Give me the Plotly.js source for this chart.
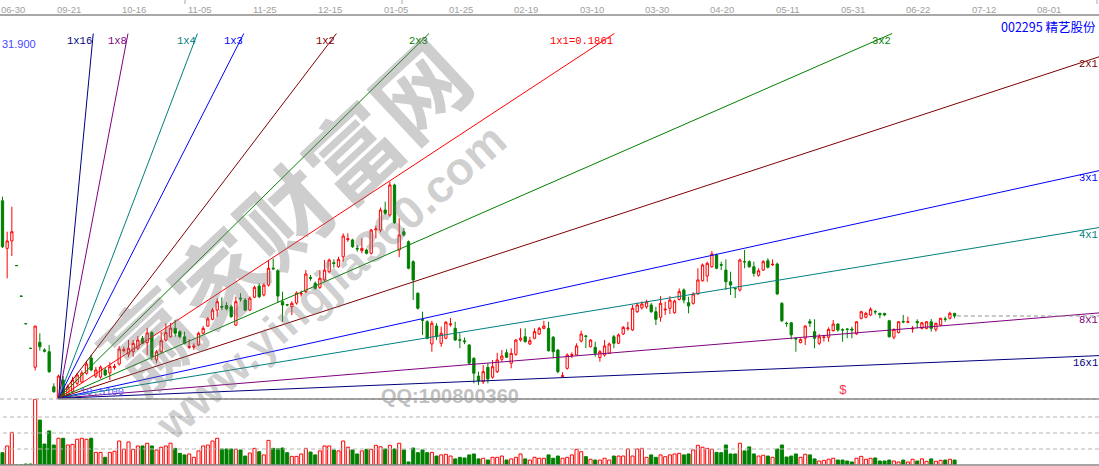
<!DOCTYPE html>
<html>
<head>
<meta charset="utf-8">
<script src="https://cdn.plot.ly/plotly-3.0.1.min.js"></script>
<style>
html,body{margin:0;padding:0;background:#ffffff;overflow:hidden}
#chart{width:1099px;height:466px}
</style>
</head>
<body>
<div id="chart"></div>
<script>
// ---------------- data ----------------
const openP = [22.51,19.62,20.07,18.58,16.72,15.05,13.55,12.40,13.91,13.45,
13.34,11.21,10.51,11.62,10.71,10.91,11.42,11.50,12.03,12.96,
11.86,11.80,12.23,12.05,12.38,12.59,13.40,13.20,13.34,13.55,
14.15,13.89,14.50,12.84,13.34,14.05,14.25,14.76,14.56,14.25,
13.60,13.62,13.75,14.46,14.90,15.31,15.87,16.10,16.15,16.07,
14.96,16.60,16.48,15.87,16.65,17.33,16.79,17.39,18.42,18.26,
16.38,16.20,16.07,16.30,16.85,16.99,17.85,17.50,17.25,17.70,
18.20,18.75,18.50,19.11,20.15,20.13,19.62,19.48,19.52,19.32,
20.75,20.73,21.95,21.65,23.47,19.52,20.63,20.02,18.81,16.89,
15.30,15.16,13.81,14.90,13.85,14.16,14.98,14.76,14.07,14.00,
13.75,12.94,11.86,11.52,12.39,11.79,12.13,12.88,13.28,12.64,
13.18,14.05,14.25,13.81,14.16,14.42,14.76,14.76,14.22,13.44,
11.84,12.33,13.12,13.14,13.99,14.30,13.64,13.61,12.98,13.14,
13.24,14.25,13.85,14.42,14.74,14.66,15.77,16.00,16.06,16.18,
15.77,15.43,15.88,15.98,15.71,16.52,17.09,16.32,16.28,16.85,
17.65,17.94,18.50,19.22,18.63,18.30,17.59,17.20,17.09,18.82,
18.81,18.50,17.98,18.30,18.87,18.62,18.67,16.28,15.07,15.10,
14.16,13.89,14.16,15.18,14.56,13.85,14.20,14.22,14.62,15.02,
14.68,14.72,14.72,14.42,15.37,15.43,15.57,15.78,15.67,15.67,
15.22,14.22,14.50,15.18,15.13,14.72,15.18,14.76,14.76,15.16,
14.70,14.96,15.33,15.37,15.67];
const highP = [22.76,20.63,22.15,18.58,16.72,15.05,13.55,14.90,14.46,13.55,
13.75,11.42,11.95,11.86,11.35,11.82,12.05,12.20,12.79,13.14,
12.41,12.50,12.35,12.71,12.60,13.69,13.65,14.05,14.05,14.29,
14.30,14.78,14.60,13.44,14.54,15.08,15.08,15.27,14.65,14.56,
14.10,13.85,14.56,14.90,15.45,16.00,16.58,16.65,16.35,16.20,
16.68,16.89,16.60,16.70,17.35,17.50,17.50,18.91,19.00,18.35,
16.99,16.25,16.40,17.00,17.05,18.30,18.00,17.60,18.30,18.91,
19.00,18.95,19.11,20.53,20.53,20.20,19.82,20.23,19.60,20.80,
21.00,22.10,22.45,23.67,23.55,21.45,20.86,20.10,18.90,16.95,
15.77,15.25,15.22,15.07,14.86,15.20,15.39,15.16,14.46,14.20,
13.80,13.00,12.13,12.53,12.64,12.84,13.28,13.44,13.49,13.55,
14.10,14.76,14.76,14.25,14.76,14.85,15.22,15.16,14.30,13.50,
12.10,13.24,13.30,13.85,14.62,14.36,14.10,13.95,13.44,14.05,
13.90,14.36,14.45,14.90,15.16,16.18,16.32,16.40,16.50,16.30,
16.07,16.72,16.38,16.72,16.50,17.19,17.19,16.68,16.95,18.41,
18.70,18.81,19.46,19.30,18.81,18.95,18.20,17.22,19.00,19.52,
18.90,18.81,18.41,18.91,19.02,18.95,18.75,16.35,15.16,15.15,
14.18,14.15,14.95,15.33,15.31,14.42,14.36,14.82,15.27,15.07,
14.76,14.76,14.86,15.20,15.83,15.77,16.04,15.87,15.70,15.70,
15.28,14.75,15.20,15.57,15.47,14.90,15.31,15.15,15.20,15.33,
15.10,15.40,15.47,15.77,15.70];
const lowP = [19.64,17.80,19.15,18.57,16.71,15.04,13.54,12.20,13.40,13.30,
12.05,10.85,10.51,10.55,10.60,10.85,11.30,11.45,11.95,12.15,
11.74,11.70,11.85,11.62,12.25,12.50,13.30,13.02,13.04,13.45,
13.80,13.14,12.84,12.67,13.26,13.95,14.20,14.25,14.15,13.80,
13.50,13.45,13.70,14.40,14.85,15.25,15.47,15.87,15.85,15.40,
14.90,16.38,15.80,15.80,16.60,16.60,16.70,17.30,18.30,16.30,
15.16,16.10,15.57,16.20,16.70,16.90,17.65,17.10,17.15,17.60,
18.10,18.45,18.45,18.81,20.02,19.65,19.42,19.32,19.25,19.25,
20.23,20.60,21.65,21.55,21.10,19.08,20.35,18.35,16.48,15.90,
14.36,14.10,13.34,14.05,13.64,14.10,14.86,14.00,13.55,13.80,
12.60,11.42,11.32,11.38,11.42,11.70,12.05,12.73,12.95,12.33,
13.10,13.95,13.90,13.75,14.10,14.35,14.70,13.35,12.94,12.03,
11.80,12.25,12.95,13.10,13.90,13.55,13.60,13.04,12.73,13.04,
13.20,13.55,13.80,14.35,14.62,14.60,15.70,15.90,15.95,15.70,
14.96,15.16,15.57,15.63,15.65,16.45,16.28,15.67,16.20,16.80,
17.60,17.59,18.45,18.35,18.30,17.09,16.79,16.60,17.00,18.41,
18.45,17.90,17.90,18.25,18.40,18.55,16.80,15.15,14.86,14.09,
13.34,13.85,13.75,14.84,13.55,13.75,13.95,13.95,14.56,14.56,
13.95,14.16,14.16,14.36,15.30,15.37,15.50,15.60,15.37,15.50,
14.20,14.09,14.45,15.07,15.07,14.50,14.76,14.70,14.70,14.56,
14.56,14.90,15.16,15.30,15.37];
const closeP = [19.72,20.07,20.63,18.57,16.71,15.04,13.54,14.90,13.64,13.37,
12.13,10.91,11.86,10.61,11.21,11.62,11.93,12.05,12.59,12.23,
12.23,12.41,11.93,12.43,12.45,13.51,13.47,13.55,13.85,14.05,
13.85,14.48,13.04,13.34,14.01,14.50,14.78,14.46,14.25,13.85,
13.67,13.68,14.46,14.76,15.33,15.87,16.38,16.05,15.95,15.47,
16.38,16.55,15.87,16.59,17.25,16.68,17.39,18.41,18.38,16.72,
16.18,16.18,16.28,16.91,16.88,18.06,17.80,17.19,17.80,18.30,
18.91,18.70,18.95,20.37,20.20,19.72,19.58,19.62,19.32,20.73,
20.80,21.95,21.75,23.47,21.18,20.43,20.43,18.41,17.70,15.98,
15.25,14.15,15.07,14.25,14.46,15.13,15.03,14.05,14.03,13.95,
12.64,12.03,11.58,12.13,11.68,12.43,12.84,13.08,13.00,13.24,
14.05,14.16,13.95,14.01,14.56,14.76,14.90,13.40,13.34,12.13,
11.88,13.14,13.16,13.69,14.42,14.27,14.05,13.24,13.34,13.69,
13.81,13.85,14.36,14.82,14.78,15.98,16.18,16.24,16.36,15.77,
15.31,16.28,15.92,16.48,16.42,16.99,16.48,16.12,16.85,17.70,
18.61,18.71,19.28,18.41,18.60,17.59,17.39,17.17,18.91,18.80,
18.50,18.10,18.26,18.81,18.47,18.65,16.85,15.22,15.05,14.36,
14.12,14.09,14.90,15.07,14.16,14.25,14.23,14.70,15.02,14.66,
14.66,14.70,14.66,15.16,15.77,15.67,15.92,15.76,15.59,15.57,
14.25,14.70,15.16,15.15,15.16,14.76,15.10,15.10,15.16,14.76,
15.07,15.37,15.31,15.67,15.51];
const volume = [7.7,11.9,20.4,0,0,0.6,0.6,41.1,28.1,13.1,
21.3,12.5,16.7,16.7,12.5,12.9,16.1,16.7,16.1,16.7,
7.9,7.9,4.8,7.9,8.6,15.0,9.8,14.4,9.8,11.9,
11.9,13.6,11.9,9.4,11.1,11.9,13.6,10.4,7.3,6.3,
6.9,4.8,8.8,11.9,12.5,15.0,16.7,10.0,10.0,10.0,
9.8,9.4,5.6,7.5,10.4,8.3,6.3,15.4,10.4,10.2,
10.6,7.7,5.4,5.4,6.9,10.4,8.1,6.3,8.8,11.9,
11.9,9.4,8.8,15.0,11.1,9.4,6.9,8.8,9.8,9.8,
12.3,11.4,10.0,12.3,10.0,13.6,9.4,1.9,10.6,7.7,
9.4,7.7,7.9,5.6,6.3,6.7,5.6,3.8,4.8,4.4,
6.3,6.9,3.8,4.2,3.1,4.8,4.8,5.6,3.1,3.8,
4.8,6.9,3.8,3.1,4.8,4.2,4.2,6.3,4.2,5.6,
4.2,4.8,6.3,9.8,8.3,5.2,3.6,3.1,3.1,4.2,
3.1,5.6,5.6,5.6,10.0,5.6,10.0,10.4,4.8,6.3,
4.8,6.3,5.2,6.3,6.9,7.3,6.3,6.9,9.4,12.3,
11.1,10.4,9.8,7.9,7.7,12.5,6.9,6.9,13.6,8.8,
11.3,6.9,5.6,6.1,5.6,4.8,10.0,12.5,5.0,5.6,
6.9,4.8,6.7,6.3,3.8,2.5,2.9,3.6,4.2,3.1,
3.1,2.5,1.9,4.2,5.4,3.6,4.2,4.4,2.5,2.5,
3.1,2.5,1.9,3.1,1.9,3.6,2.5,3.8,2.3,3.8,
2.3,2.9,3.1,3.6,3.1];
const dateLabels = ["06-30","09-21","10-16","11-05","11-25","12-15","01-05","01-25","02-19",
  "03-10","03-30","04-20","05-11","05-31","06-22","07-12","08-01"];
const fanNames  = ["1x16","1x8","1x4","1x3","1x2","2x3","1x1","3x2","2x1","3x1","4x1","8x1","16x1"];
const fanRatios = [16, 8, 4, 3, 2, 1.5, 1, 2/3, 1/2, 1/3, 1/4, 1/8, 1/16];
const fanColors = ["#000080","#800080","#008080","#0000ff","#800000","#008000","#ff0000",
  "#008000","#800000","#0000ff","#008080","#800080","#000080"];
const fanUnit = 0.1861;
const stockTitle = "002295 精艺股份";
const topPriceLabel = "31.900";
const watermarkCn = "赢家财富网";
const watermarkUrl = "www.yingjia360.com";
const watermarkQQ = "QQ:100800360";
const markerBar = 180;

// ---------------- geometry ----------------
const W = 1099, H = 466;
const BAR_PX = 4.667, FIRST_BAR_PX = 2.5;
const PX_PER_PRICE = 16.46, ORIGIN_Y_PX = 398.3, FAN_TOP_PX = 33.5;
const VOL_TOP_PX = 399, VOL_BOTTOM_PX = 465, VOL_GRID_PX = 16, VOL_GRID_UNIT = 10;

const n = closeP.length;
const idx = closeP.map((_, i) => i);
let originIdx = 0;
for (let i = 1; i < n; i++) if (lowP[i] < lowP[originIdx]) originIdx = i;
const originPrice = lowP[originIdx];

const xRange = [-FIRST_BAR_PX / BAR_PX, (W - FIRST_BAR_PX) / BAR_PX];
const yRange = [originPrice - (H - ORIGIN_Y_PX) / PX_PER_PRICE, originPrice + ORIGIN_Y_PX / PX_PER_PRICE];
const fanTopPrice = originPrice + (ORIGIN_Y_PX - FAN_TOP_PX) / PX_PER_PRICE;
const volTop = (VOL_BOTTOM_PX - VOL_TOP_PX) / VOL_GRID_PX * VOL_GRID_UNIT;
const py = px => (H - px) / H;   // pixel row -> paper y
const pxX = px => px / W;        // pixel col -> paper x

const up = closeP.map((c, i) => c >= openP[i]);
const RED = "#ff0000", GREEN = "#008000";

const traces = [];
const annotations = [];
// Gann fan lines
fanNames.forEach((name, k) => {
  const slope = fanUnit * fanRatios[k];
  let xEnd = originIdx + (fanTopPrice - originPrice) / slope;
  if (xEnd > xRange[1]) xEnd = xRange[1];
  const pEnd = originPrice + slope * (xEnd - originIdx);
  traces.push({type: "scatter", mode: "lines", x: [originIdx, xEnd], y: [originPrice, pEnd],
    line: {color: fanColors[k], width: 1}, hoverinfo: "skip"});
  annotations.push({xref: "x", yref: "y", x: xEnd, y: pEnd, xanchor: "right", yanchor: "top",
    showarrow: false, borderpad: 0,
    text: name + (fanRatios[k] === 1 ? "=" + fanUnit.toFixed(4) : ""),
    font: {family: "Liberation Mono, monospace", size: 10.5, color: fanColors[k]}});
});

// candles
traces.push({type: "candlestick", x: idx, open: openP, high: highP, low: lowP, close: closeP,
  increasing: {line: {color: RED, width: 1}, fillcolor: "#ffffff"},
  decreasing: {line: {color: GREEN, width: 1}, fillcolor: GREEN},
  whiskerwidth: 0, hoverinfo: "skip"});

// volume
traces.push({type: "bar", x: idx, y: volume, yaxis: "y2", width: 0.66,
  marker: {color: up.map(u => u ? "#ffffff" : GREEN), line: {color: up.map(u => u ? RED : GREEN), width: 1}},
  hoverinfo: "skip"});

// ---------------- decorations ----------------
const shapes = [];
[1, 2, 3].forEach(g => shapes.push({type: "line", xref: "paper", yref: "y2", x0: pxX(3), x1: 1,
  y0: g * VOL_GRID_UNIT, y1: g * VOL_GRID_UNIT, line: {color: "#b4b4b4", width: 1, dash: "4px,3px"}}));
shapes.push({type: "line", xref: "paper", yref: "paper", x0: 0, x1: 1, y0: py(VOL_BOTTOM_PX), y1: py(VOL_BOTTOM_PX),
  line: {color: "#888888", width: 1.5}});
shapes.push({type: "line", xref: "paper", yref: "paper", x0: 0, x1: 1, y0: py(VOL_TOP_PX), y1: py(VOL_TOP_PX),
  line: {color: "#a8a8a8", width: 1.2, dash: "4px,3px"}});
shapes.push({type: "line", xref: "x", yref: "paper", x0: originIdx, x1: xRange[1], y0: py(VOL_TOP_PX), y1: py(VOL_TOP_PX),
  line: {color: "#888888", width: 1.5}});
// last close price line
shapes.push({type: "line", xref: "x", yref: "y", x0: n - 1 + 0.5, x1: xRange[1], y0: closeP[n - 1], y1: closeP[n - 1],
  line: {color: "#909090", width: 1, dash: "4px,3px"}});
// top date strip
shapes.push({type: "line", xref: "paper", yref: "paper", x0: 0, x1: 1, y0: py(15), y1: py(15),
  line: {color: "#a8a8a8", width: 2}});
[185, 402, 1097].forEach(px => shapes.push({type: "line", xref: "paper", yref: "paper",
  x0: pxX(px), x1: pxX(px), y0: 1, y1: py(4), line: {color: "#a8a8a8", width: 1}}));

// date labels (the first one is kept fully inside the left edge)
dateLabels.forEach((t, k) => annotations.push({xref: "x", yref: "paper", x: k === 0 ? xRange[0] : 0.25 + 14 * k, y: py(9.5),
  xanchor: k === 0 ? "left" : "center", yanchor: "middle", showarrow: false, text: t, borderpad: 0,
  font: {family: "Liberation Sans, Arial, sans-serif", size: 9.5, color: "#a0a0a0"}}));

annotations.push({xref: "paper", yref: "paper", x: pxX(1097), y: py(26), xanchor: "right", yanchor: "middle",
  showarrow: false, text: stockTitle, borderpad: 0,
  font: {family: "Noto Sans CJK SC, sans-serif", size: 12.5, color: "#0000ff"}});
annotations.push({xref: "paper", yref: "paper", x: pxX(1), y: py(44.5), xanchor: "left", yanchor: "middle",
  showarrow: false, text: topPriceLabel, borderpad: 0,
  font: {family: "Liberation Sans, Arial, sans-serif", size: 11, color: "#4848ff"}});
annotations.push({xref: "x", yref: "y", x: originIdx, y: originPrice, xanchor: "left", yanchor: "bottom",
  xshift: 20, yshift: -1, showarrow: false, text: originPrice.toFixed(4), borderpad: 0,
  font: {family: "Liberation Mono, monospace", size: 10.5, color: "#5a5aff"}});
annotations.push({xref: "x", yref: "paper", x: markerBar, y: py(VOL_TOP_PX), xanchor: "center", yanchor: "bottom",
  showarrow: false, text: "$", borderpad: 0,
  font: {family: "Liberation Mono, monospace", size: 13, color: "#ff3050"}});
// watermark
annotations.push({xref: "paper", yref: "paper", x: pxX(282), y: py(212), xanchor: "center", yanchor: "middle",
  showarrow: false, text: "<b>" + watermarkCn + "</b>", textangle: -43,
  font: {family: "Noto Sans CJK SC, sans-serif", size: 92, color: "rgba(120,120,120,0.36)"}});
annotations.push({xref: "paper", yref: "paper", x: pxX(330), y: py(282), xanchor: "center", yanchor: "middle",
  showarrow: false, text: "<b>" + watermarkUrl + "</b>", textangle: -41.5,
  font: {family: "Liberation Sans, Arial, sans-serif", size: 46, color: "rgba(120,120,120,0.36)"}});
annotations.push({xref: "paper", yref: "paper", x: pxX(380), y: py(396), xanchor: "left", yanchor: "middle",
  showarrow: false, text: "<b>" + watermarkQQ + "</b>", borderpad: 0,
  font: {family: "Liberation Sans, Arial, sans-serif", size: 20, color: "rgba(150,150,150,0.6)"}});

const layout = {
  width: W, height: H, margin: {l: 0, r: 0, t: 0, b: 0, pad: 0},
  paper_bgcolor: "#ffffff", plot_bgcolor: "rgba(0,0,0,0)", showlegend: false,
  boxgap: 0.3,
  xaxis: {range: xRange, visible: false, fixedrange: true, rangeslider: {visible: false}},
  yaxis: {range: yRange, domain: [0, 1], visible: false, fixedrange: true},
  yaxis2: {range: [0, volTop], domain: [py(VOL_BOTTOM_PX), py(VOL_TOP_PX)], anchor: "x", visible: false, fixedrange: true},
  shapes: shapes, annotations: annotations
};
Plotly.newPlot("chart", traces, layout, {displayModeBar: false, staticPlot: true});
</script>
</body>
</html>
